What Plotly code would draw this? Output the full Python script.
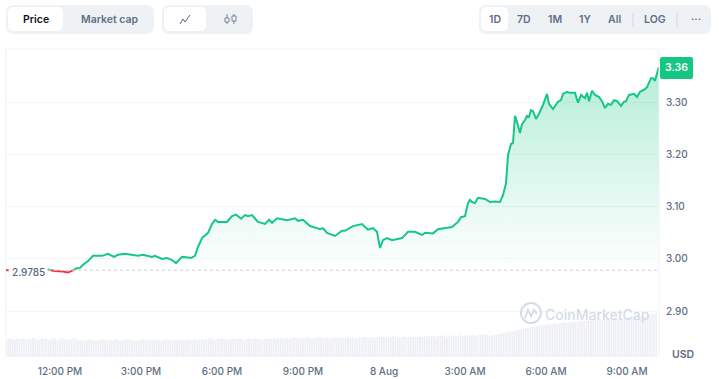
import numpy as np
import plotly.graph_objects as go

W, H = 719, 379
BASELINE = 2.9785
BASE_LABEL = "2.9785"
LAST_LABEL = "3.36"

# hours since midnight of 7 Aug
hours = [11.556,11.593,11.815,12.111,12.296,12.481,12.593,12.741,12.852,13.037,13.222,13.556,13.778,14.0,14.148,14.407,14.667,14.889,15.074,15.407,15.519,15.778,15.963,16.148,16.296,16.519,16.741,16.852,17.0,17.111,17.259,17.37,17.481,17.63,17.741,17.852,18.185,18.37,18.519,18.704,18.852,18.963,19.111,19.333,19.593,19.741,19.852,20.037,20.407,20.704,20.815,21.0,21.259,21.519,21.63,21.741,21.889,22.185,22.444,22.556,22.852,23.185,23.407,23.593,23.741,23.852,23.963,24.111,24.296,24.667,24.889,25.148,25.407,25.519,25.815,26.0,26.519,26.741,26.852,27.0,27.111,27.185,27.259,27.37,27.481,27.741,27.926,28.111,28.296,28.407,28.519,28.593,28.704,28.778,28.852,28.926,29.037,29.111,29.222,29.296,29.37,29.444,29.519,29.63,29.741,29.889,30.037,30.111,30.259,30.444,30.556,30.63,30.778,30.889,31.074,31.185,31.296,31.444,31.519,31.593,31.704,31.815,31.963,32.074,32.185,32.296,32.407,32.519,32.63,32.778,32.889,32.963,33.074,33.259,33.37,33.481,33.667,33.741,33.889,33.963,34.037,34.148,34.185]
prices = [2.981,2.979,2.977,2.976,2.974,2.978,2.982,2.983,2.989,2.996,3.006,3.006,3.01,3.004,3.008,3.01,3.008,3.006,3.008,3.004,3.006,3.0,3.002,2.998,2.992,3.004,3.003,3.002,3.006,3.023,3.04,3.046,3.05,3.067,3.075,3.071,3.071,3.082,3.085,3.077,3.084,3.082,3.084,3.071,3.067,3.075,3.069,3.078,3.074,3.078,3.073,3.075,3.063,3.059,3.057,3.059,3.05,3.044,3.054,3.054,3.063,3.067,3.056,3.059,3.052,3.021,3.036,3.04,3.036,3.04,3.052,3.052,3.046,3.05,3.049,3.057,3.061,3.071,3.08,3.082,3.107,3.113,3.109,3.107,3.117,3.115,3.109,3.11,3.109,3.122,3.145,3.199,3.22,3.222,3.274,3.262,3.241,3.258,3.266,3.274,3.272,3.285,3.283,3.268,3.278,3.295,3.316,3.297,3.287,3.301,3.304,3.316,3.32,3.318,3.318,3.299,3.314,3.308,3.318,3.302,3.322,3.314,3.31,3.302,3.289,3.297,3.295,3.304,3.302,3.293,3.301,3.302,3.314,3.316,3.31,3.32,3.325,3.329,3.346,3.346,3.341,3.362,3.367]

# 5-minute volume, arbitrary units
volume = [
 18,19,18,18,17,19,18,18,19,17,18,18,19,18,17,18,19,18,18,17,
 18,19,18,17,18,19,18,18,17,18,19,18,17,17,16,17,17,18,17,17,
 16,17,17,18,17,16,17,17,17,18,17,16,17,17,18,17,17,16,17,17,
 17,18,17,16,17,17,18,17,17,16,17,18,17,17,16,17,17,18,17,17,
 17,18,17,17,18,17,18,18,17,18,18,19,18,17,18,18,19,18,18,17,
 18,19,18,18,19,18,17,18,19,18,18,19,18,18,17,18,19,18,18,19,
 18,19,19,18,19,19,18,19,20,19,19,18,19,19,20,19,18,19,19,20,
 19,19,20,19,18,19,20,19,19,20,19,19,20,19,20,19,19,20,19,20,
 20,19,20,20,19,20,20,21,20,19,20,20,21,20,20,19,20,21,20,20,
 20,21,20,20,21,20,21,21,20,21,21,20,21,21,22,21,20,21,21,22,
 21,21,22,21,22,22,21,22,22,21,22,22,23,22,22,21,22,22,22,23,
 23,24,24,25,25,26,26,27,27,28,28,29,29,30,30,30,31,31,32,32,
 32,33,33,33,34,33,34,34,34,35,34,35,35,35,35,36,36,36,36,37,
 36,37,37,37,38,37,38,38,38,38,38,39,38,39,39,39,39,39,40,39,
 40,40,40,41,41,42,42,43,43,44,
]
volume_start_hour = 10.0
volume_step_hours = 1 / 12

price_ticks = [3.30, 3.20, 3.10, 3.00, 2.90]
price_labels = ["3.30", "3.20", "3.10", "3.00", "2.90"]
time_ticks = [12, 15, 18, 21, 24, 27, 30, 33]
time_labels = ["12:00 PM", "3:00 PM", "6:00 PM", "9:00 PM", "8 Aug", "3:00 AM", "6:00 AM", "9:00 AM"]
left_tabs = ["Price", "Market cap"]
range_tabs = ["1D", "7D", "1M", "1Y", "All", "LOG", "···"]

GREEN, RED = "#16c784", "#ea3943"
GREY, DARK = "#616e85", "#0d1421"
PANEL, GRID = "#eff2f5", "#f3f5f7"
MARK = "#d5dbe8"
FONT = "Inter"

def X(p): return p / W
def Y(p): return 1 - p / H

# add exact baseline crossings so colour and fill change cleanly
hx, py = [hours[0]], [prices[0]]
for i in range(1, len(hours)):
    a, b = prices[i - 1] - BASELINE, prices[i] - BASELINE
    if a * b < 0:
        t = a / (a - b)
        hx.append(hours[i - 1] + t * (hours[i] - hours[i - 1]))
        py.append(BASELINE)
    hx.append(hours[i]); py.append(prices[i])
hx, py = np.array(hx), np.array(py)
upper = np.maximum(py, BASELINE)
lower = np.where(py <= BASELINE, py, np.nan)
green = np.where(py >= BASELINE, py, np.nan)

fig = go.Figure()
fig.add_trace(go.Bar(x=[volume_start_hour + i * volume_step_hours for i in range(len(volume))],
                     y=volume, yaxis="y2", marker=dict(color="rgba(214,220,232,0.45)", line_width=0), hoverinfo="skip"))
fig.add_trace(go.Scatter(x=hx, y=np.full_like(hx, BASELINE), mode="lines", line=dict(width=0), hoverinfo="skip"))
fig.add_trace(go.Scatter(x=hx, y=upper, mode="lines", line=dict(width=0), fill="tonexty",
                         fillgradient=dict(type="vertical", start=BASELINE, stop=max(prices),
                                           colorscale=[[0, "rgba(22,199,132,0.0)"], [1, "rgba(22,199,132,0.32)"]]),
                         hoverinfo="skip"))
fig.add_trace(go.Scatter(x=hx, y=green, mode="lines", line=dict(color=GREEN, width=2), connectgaps=False))
fig.add_trace(go.Scatter(x=hx, y=lower, mode="lines", line=dict(color=RED, width=2), connectgaps=False))

def rrect(x0, y0, x1, y1, r, color):
    xs = lambda v: f"{X(v):.5f}"
    ys = lambda v: f"{Y(v):.5f}"
    path = (f"M {xs(x0+r)} {ys(y0)} L {xs(x1-r)} {ys(y0)} Q {xs(x1)} {ys(y0)} {xs(x1)} {ys(y0+r)} "
            f"L {xs(x1)} {ys(y1-r)} Q {xs(x1)} {ys(y1)} {xs(x1-r)} {ys(y1)} "
            f"L {xs(x0+r)} {ys(y1)} Q {xs(x0)} {ys(y1)} {xs(x0)} {ys(y1-r)} "
            f"L {xs(x0)} {ys(y0+r)} Q {xs(x0)} {ys(y0)} {xs(x0+r)} {ys(y0)} Z")
    return dict(type="path", xref="paper", yref="paper", path=path, fillcolor=color, line_width=0, layer="above")

def seg(points, color, width=1.0):
    path = "M " + " L ".join(f"{X(a):.5f} {Y(b):.5f}" for a, b in points)
    return dict(type="path", xref="paper", yref="paper", path=path, line=dict(color=color, width=width), layer="above")

shapes = [
    rrect(6, 5, 154, 34, 8, PANEL), rrect(8, 7, 63, 31, 6, "#ffffff"),
    rrect(162, 5, 253, 34, 8, PANEL), rrect(164, 7, 206, 31, 6, "#ffffff"),
    rrect(479, 5, 711, 34, 8, PANEL), rrect(481, 7, 508, 31, 6, "#ffffff"),
    seg([(633, 13), (633, 27)], "#cfd6e4"), seg([(677, 13), (677, 27)], "#cfd6e4"),
    # line / candle icons
    seg([(180, 24), (183, 19), (185, 22), (190, 15)], "#58667e"),
    seg([(227, 14), (227, 24)], "#7c8698"), seg([(234, 14), (234, 24)], "#7c8698"),
    rrect(225, 18, 229, 22, 1, PANEL), rrect(232, 16, 236, 21, 1, PANEL),
    seg([(225, 18), (229, 18), (229, 22), (225, 22), (225, 18)], "#7c8698"),
    seg([(232, 16), (236, 16), (236, 21), (232, 21), (232, 16)], "#7c8698"),
    # chart frame
    seg([(6, 49), (659, 49)], PANEL), seg([(6, 49), (6, 357)], PANEL), seg([(659, 49), (659, 357)], PANEL),
    # baseline
    dict(type="line", xref="x", yref="y", x0=hours[0], x1=34.19, y0=BASELINE, y1=BASELINE,
         line=dict(color="#d8cdd2", width=1, dash="dot"), layer="above"),
    dict(type="line", xref="x", yref="y", x0=10, x1=10.1, y0=BASELINE, y1=BASELINE,
         line=dict(color=RED, width=2), layer="above"),
    # last price tag
    rrect(660, 57, 693, 79, 2, GREEN),
    # watermark logo
    dict(type="circle", xref="paper", yref="paper", x0=X(521), x1=X(541), y0=Y(323), y1=Y(303),
         line=dict(color=MARK, width=2), fillcolor="rgba(0,0,0,0)", layer="above"),
    seg([(525, 318), (528, 310), (531, 316), (534, 310), (537, 314)], MARK, 2),
]

def label(text, x, y, size=10.5, color=GREY, weight=600, family=FONT, **kw):
    return dict(text=text, xref="paper", yref="paper", x=X(x), y=Y(y), showarrow=False,
                xanchor=kw.pop("xanchor", "center"), yanchor="middle",
                font=dict(size=size, color=color, weight=weight, family=family), **kw)

annotations = [
    label(left_tabs[0], 36, 19, color=DARK),
    label(left_tabs[1], 109.5, 19),
    label(BASE_LABEL, 28, 272, size=10, color="#58667e", weight=500),
    label(LAST_LABEL, 676.5, 68, color="#ffffff", size=10.5),
    label("USD", 683, 354, size=10.5),
    label("CoinMarketCap", 597, 314, size=14, color=MARK, weight=500),
]
for t, cx in zip(range_tabs, [495, 524, 555, 585, 614, 655, 696]):
    annotations.append(label(t, cx, 19))

fig.update_layout(
    width=W, height=H, margin=dict(l=0, r=0, t=0, b=0),
    paper_bgcolor="#ffffff", plot_bgcolor="#ffffff", showlegend=False, bargap=0.25,
    shapes=shapes, annotations=annotations, hovermode=False,
    xaxis=dict(domain=[X(6), X(659)], range=[10, 34.185], tickvals=time_ticks, ticktext=time_labels,
               showgrid=False, zeroline=False, showline=False, ticks="outside", ticklen=5,
               tickcolor="rgba(0,0,0,0)", tickfont=dict(family=FONT, size=10, color=GREY, weight=500)),
    yaxis=dict(domain=[Y(357), Y(49)], range=[2.8124, 3.4019], side="right", tickvals=price_ticks,
               ticktext=price_labels, gridcolor=GRID, gridwidth=1, zeroline=False, showline=False,
               ticks="outside", ticklen=4, tickcolor="rgba(0,0,0,0)",
               tickfont=dict(family=FONT, size=10, color=GREY, weight=500)),
    yaxis2=dict(domain=[Y(357), Y(49)], range=[0, 308], overlaying="y", visible=False),
)

fig.write_html("out.html", config=dict(displayModeBar=False),
               post_script="document.body.style.margin='0';document.body.style.overflow='hidden';")
